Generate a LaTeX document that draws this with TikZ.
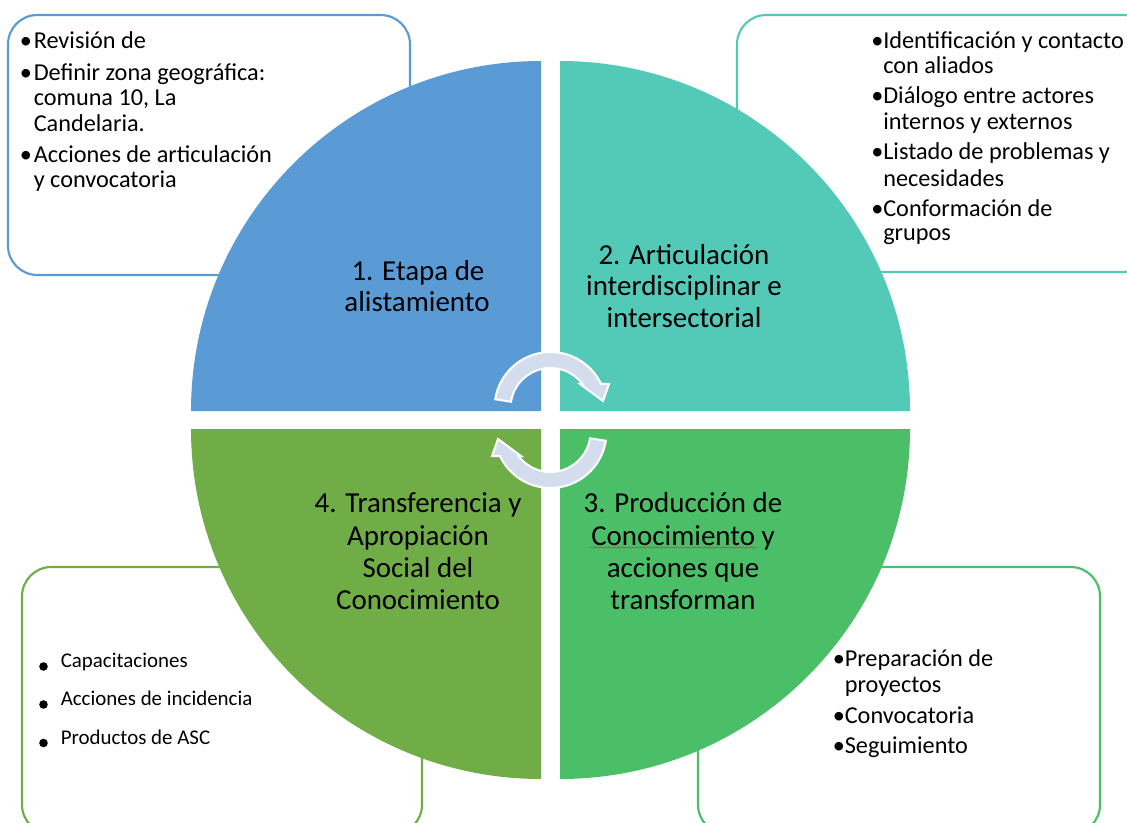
\documentclass[tikz,border=0pt]{standalone}
\usepackage{fontspec}
\setmainfont{Carlito}
\usetikzlibrary{decorations.pathmorphing}
\definecolor{qblue}{RGB}{91,155,213}
\definecolor{qteal}{RGB}{83,201,183}
\definecolor{qgreenA}{RGB}{112,173,71}
\definecolor{qgreenB}{RGB}{75,191,103}
\definecolor{arrowfill}{RGB}{212,221,238}
\definecolor{spellred}{RGB}{200,70,70}
\begin{document}
\begin{tikzpicture}[x=0.75pt,y=-0.75pt,
  boxtxt/.style={font=\fontsize{18.2}{20}\selectfont, anchor=base west, inner sep=0pt},
  bulchar/.style={font=\fontsize{18.2}{20}\selectfont, anchor=base, inner sep=0pt},
  quadtxt/.style={font=\fontsize{21.7}{24}\selectfont, anchor=base, inner sep=0pt},
  bltxt/.style={font=\fontsize{15.7}{18}\selectfont, anchor=base west, inner sep=0pt},
  panel/.style={line width=1.6pt, rounded corners=22pt, fill=white},
  quarter/.style={draw=none},
  cyc/.style={fill=arrowfill, draw=white, line width=1.5pt, line join=miter},
  dotbul/.style={fill=black}]
\useasboundingbox (0,0) rectangle (1127,823);
\clip (0,0) rectangle (1127,823);

% ---- side panels
\draw[panel, draw=qblue]   (8,15)    rectangle (410,275);
\draw[panel, draw=qteal]   (737,15)  rectangle (1152,272);
\draw[panel, draw=qgreenA] (22,567)  rectangle (422,834);
\draw[panel, draw=qgreenB] (698,567) rectangle (1100,834);

% ---- quarter circles
\fill[quarter, qblue]   (541,411) -- (191,411) arc[start angle=180, end angle=270, radius=350] -- cycle;
\fill[quarter, qteal]   (560,411) -- (560,61)  arc[start angle=270, end angle=360, radius=350] -- cycle;
\fill[quarter, qgreenB] (560,429) -- (910,429) arc[start angle=0,   end angle=90,  radius=350] -- cycle;
\fill[quarter, qgreenA] (541,429) -- (541,779) arc[start angle=90,  end angle=180, radius=350] -- cycle;

% ---- circular arrows
\filldraw[cyc] (550.5,408) ++(189:56) arc[start angle=189, end angle=334.6, radius=56]
  -- (609,384) -- (603,401) -- (580,384) -- (582.5,384)
  arc[start angle=323.1, end angle=189, radius=40] -- cycle;
\begin{scope}[rotate around={180:(550.5,420)}]
\filldraw[cyc] (550.5,408) ++(189:56) arc[start angle=189, end angle=334.6, radius=56]
  -- (609,384) -- (603,401) -- (580,384) -- (582.5,384)
  arc[start angle=323.1, end angle=189, radius=40] -- cycle;
\end{scope}

% ---- quadrant labels
\node[quadtxt] (q1a) at (418,281) {1. Etapa de};
\node[quadtxt] (q1b) at (417,312) {alistamiento};

\node[quadtxt] (q2a) at (684,264.5) {2. Articulación};
\node[quadtxt] (q2b) at (684,296) {interdisciplinar e};
\node[quadtxt] (q2c) at (684,328) {intersectorial};

\node[quadtxt] (q3a) at (683,512) {3. Producción de};
\node[quadtxt] (q3b) at (683,545) {Conocimiento y};
\node[quadtxt] (q3c) at (683,577) {acciones que};
\node[quadtxt] (q3d) at (683,609) {transforman};
\draw[spellred, line width=0.5pt, decorate, decoration={snake, amplitude=0.45pt, segment length=2.6pt}]
  (590,547.5) -- (757,547.5);

\node[quadtxt] (q4a) at (418,512) {4. Transferencia y};
\node[quadtxt] (q4b) at (418,545) {Apropiación};
\node[quadtxt] (q4c) at (418,577) {Social del};
\node[quadtxt] (q4d) at (418,609) {Conocimiento};

% ---- top-left panel text
\node[bulchar] (b1a) at (26,48.5) {•};
\node[boxtxt]  (t1a) at (33.5,48.5) {Revisión de};
\node[bulchar] (b1b) at (26,80.5) {•};
\node[boxtxt]  (t1b) at (33.5,80.5) {Definir zona geográfica:};
\node[boxtxt]  (t1c) at (33.5,106) {comuna 10, La};
\node[boxtxt]  (t1d) at (33.5,131.5) {Candelaria.};
\node[bulchar] (b1e) at (26,162.5) {•};
\node[boxtxt]  (t1e) at (33.5,162.5) {Acciones de articulación};
\node[boxtxt]  (t1f) at (33.5,188) {y convocatoria};

% ---- top-right panel text
\node[bulchar] (b2a) at (877.5,49) {•};
\node[boxtxt]  (t2a) at (883,49) {Identificación y contacto};
\node[boxtxt]  (t2b) at (883,73.5) {con aliados};
\node[bulchar] (b2c) at (877.5,104) {•};
\node[boxtxt]  (t2c) at (883,104) {Diálogo entre actores};
\node[boxtxt]  (t2d) at (883,130) {internos y externos};
\node[bulchar] (b2e) at (877.5,160) {•};
\node[boxtxt]  (t2e) at (883,160) {Listado de problemas y};
\node[boxtxt]  (t2f) at (883,186.5) {necesidades};
\node[bulchar] (b2g) at (877.5,216.5) {•};
\node[boxtxt]  (t2g) at (883,216.5) {Conformación de};
\node[boxtxt]  (t2h) at (883,241) {grupos};

% ---- bottom-right panel text
\node[bulchar] (b3a) at (839,666.5) {•};
\node[boxtxt]  (t3a) at (844.5,666.5) {Preparación de};
\node[boxtxt]  (t3b) at (844.5,692) {proyectos};
\node[bulchar] (b3c) at (839,723) {•};
\node[boxtxt]  (t3c) at (844.5,723) {Convocatoria};
\node[bulchar] (b3d) at (839,753) {•};
\node[boxtxt]  (t3d) at (844.5,753) {Seguimiento};

% ---- bottom-left panel text
\fill[dotbul] (43.5,666.5) circle[radius=4.3];
\node[bltxt] (t4a) at (60.5,667.5) {Capacitaciones};
\fill[dotbul] (43.5,704.5) circle[radius=4.3];
\node[bltxt] (t4b) at (60.5,705.5) {Acciones de incidencia};
\fill[dotbul] (43.5,743) circle[radius=4.3];
\node[bltxt] (t4c) at (60.5,744) {Productos de ASC};
\end{tikzpicture}
\end{document}
